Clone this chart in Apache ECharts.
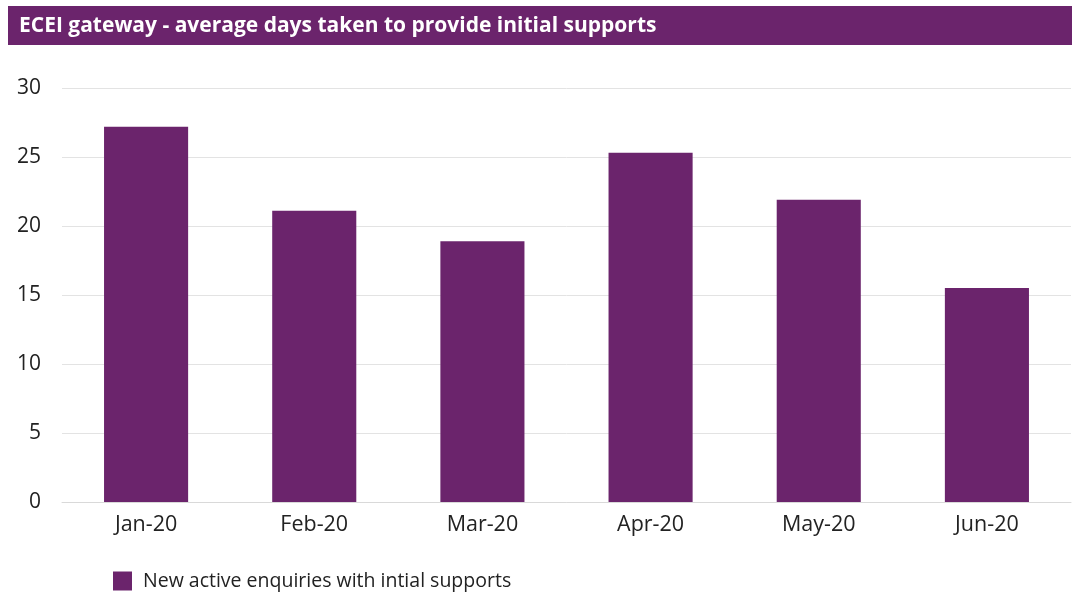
<!DOCTYPE html>
<html><head><meta charset="utf-8">
<script src="https://cdn.jsdelivr.net/npm/echarts@6/dist/echarts.min.js"></script>
<style>html,body{margin:0;padding:0;background:#fff}#c{width:1072px;height:593px}</style>
</head><body><div id="c"></div>
<script>
const categories = ['Jan-20','Feb-20','Mar-20','Apr-20','May-20','Jun-20'];
const seriesName = 'New active enquiries with intial supports';
const values = [27.2, 21.1, 18.9, 25.3, 21.9, 15.5];
const titleText = 'ECEI gateway - average days taken to provide initial supports';
const purple = '#6B246C';
const font = '"Open Sans", "Noto Sans", sans-serif';

const chart = echarts.init(document.getElementById('c'));
chart.setOption({
  animation: false,
  graphic: [
    { type: 'rect', left: 8, top: 6, shape: { width: 1064, height: 39 }, style: { fill: purple }, z: 0 }
  ],
  title: {
    text: titleText, left: 14, top: 11,
    textStyle: { color: '#fff', fontSize: 21, fontWeight: 'bold', fontFamily: font }
  },
  legend: {
    left: 113, top: 569, padding: 0, itemWidth: 19, itemHeight: 19, itemGap: 10,
    icon: 'rect',
    textStyle: { fontSize: 19.5, color: '#222', fontFamily: font, lineHeight: 24, padding: [0, 0, 0, 6] },
    data: [seriesName]
  },
  grid: { left: 62, right: 1, top: 88, bottom: 91 },
  xAxis: {
    type: 'category', data: categories,
    axisLine: { lineStyle: { color: '#d9d9d9', width: 1 } },
    axisTick: { show: false },
    axisLabel: { fontSize: 21.5, color: '#222', margin: 12, fontFamily: font }
  },
  yAxis: {
    type: 'value', min: 0, max: 30, interval: 5,
    axisLine: { show: false }, axisTick: { show: false },
    splitLine: { lineStyle: { color: '#e3e3e3', width: 1 } },
    axisLabel: { fontSize: 21, color: '#222', margin: 21, fontFamily: font }
  },
  series: [{
    name: seriesName, type: 'bar', data: values, barWidth: '50%',
    itemStyle: { color: purple }
  }]
});
</script></body></html>
